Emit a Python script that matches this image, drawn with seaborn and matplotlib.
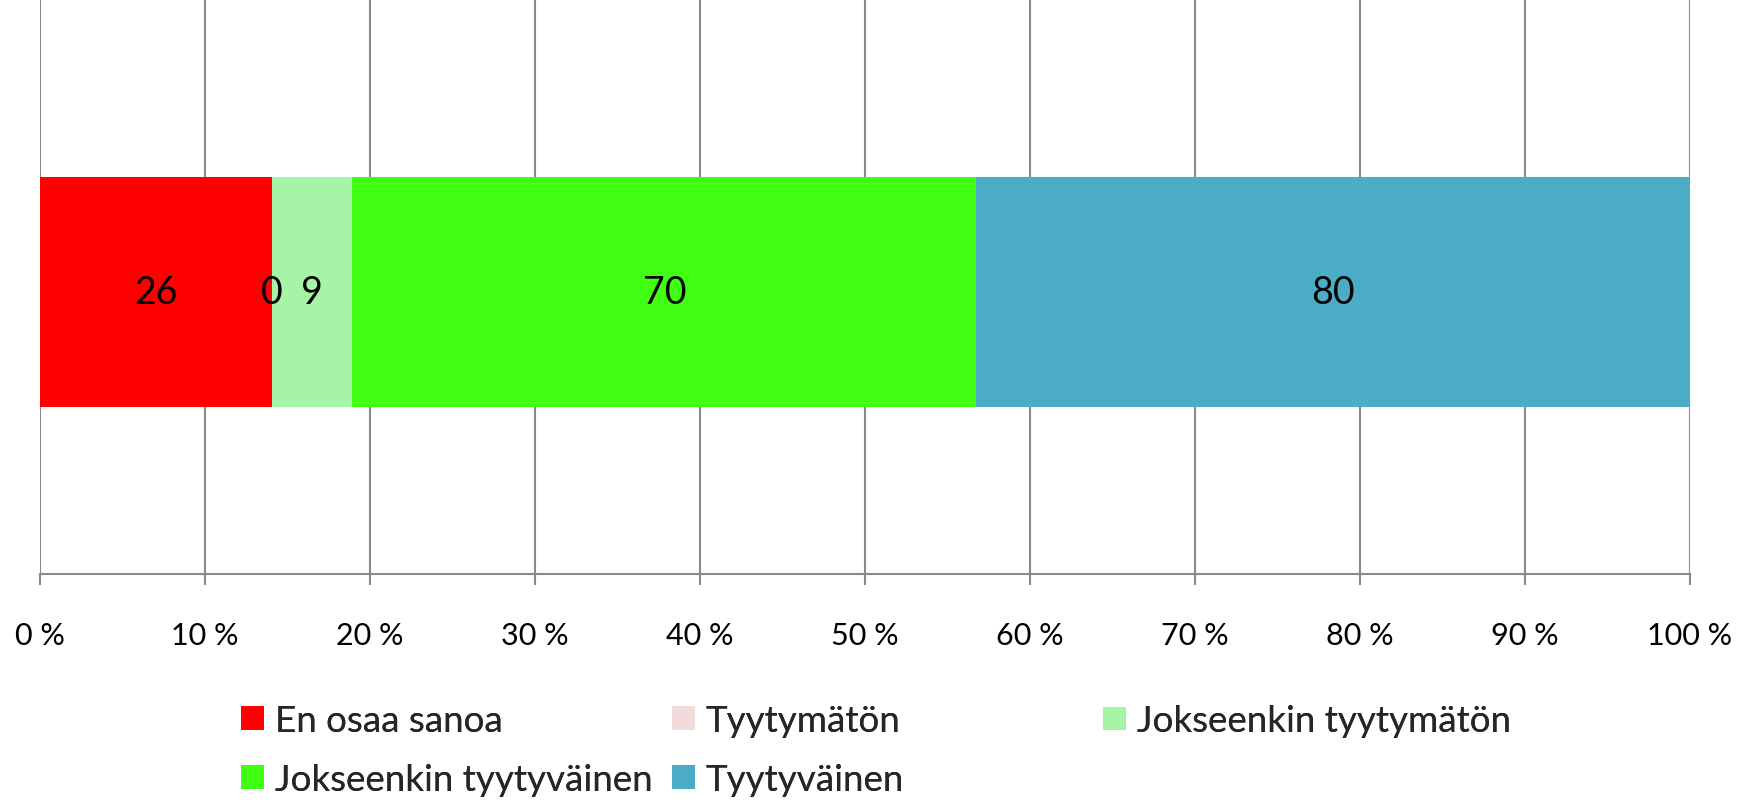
"""
    Stacked 100 % bar of satisfaction answers, Excel-like look.
"""

import seaborn as sns
import pandas as pd
import matplotlib.pyplot as plt
from matplotlib.patches import Patch
from matplotlib.ticker import FuncFormatter

# data
categories = ["En osaa sanoa", "Tyytymätön", "Jokseenkin tyytymätön",
              "Jokseenkin tyytyväinen", "Tyytyväinen"]
counts = [26, 0, 9, 70, 80]
colors = ["#FF0000", "#F2DCDB", "#A6F5A6", "#40FF12", "#4BACC6"]
x_ticks = [0, 10, 20, 30, 40, 50, 60, 70, 80, 90, 100]

sns.set_theme(style="white")
plt.rcParams['font.family'] = ['Lato', 'DejaVu Sans']

df = pd.DataFrame({"category": categories, "count": counts, "color": colors})
df["pct"] = df["count"] / df["count"].sum() * 100
df["cum"] = df["pct"].cumsum()
df["left"] = df["cum"] - df["pct"]
df["row"] = ""

fig = plt.figure(figsize=(17.44, 8.04), dpi=100)
ax = fig.add_axes([40 / 1744, 1 - 575 / 804, 1650 / 1744, 575 / 804])

# classic seaborn stacking: draw cumulative bars, widest first
for i in reversed(range(len(df))):
    sns.barplot(data=df.iloc[[i]], x="cum", y="row", color=df["color"][i],
                width=0.4, saturation=1, linewidth=0, ax=ax, zorder=3)

for _, r in df.iterrows():
    ax.text(r["left"] + r["pct"] / 2, 0, f"{r['count']}", ha="center",
            va="center", fontsize=27, color="black", zorder=4)

ax.set_xlim(0, 100)
ax.set_ylim(0.491, -0.509)
ax.set_xticks(x_ticks)
ax.xaxis.set_major_formatter(FuncFormatter(lambda v, p: f"{v:.0f} %"))
ax.set_yticks([])
ax.set_xlabel("")
ax.set_ylabel("")
ax.grid(axis="x", color="#898989", linewidth=1.5, zorder=0)
ax.set_axisbelow(True)
for s in ["top", "right", "left"]:
    ax.spines[s].set_visible(False)
ax.spines["bottom"].set_color("#898989")
ax.spines["bottom"].set_linewidth(1.5)
ax.tick_params(axis="x", direction="out", length=8, width=1.5, color="#898989",
               pad=26, labelsize=22, labelcolor="black", bottom=True)

# legend laid out like Excel: equal-width columns, filled row by row
handles = [Patch(facecolor=c, edgecolor="none") for c in colors]
columns = [[0, 3], [1, 4], [2]]
col_x = [241 / 1744, 672 / 1744, 1103 / 1744]
for k, idx in enumerate(columns):
    yc = 751 if len(idx) == 2 else 722
    leg = fig.legend([handles[j] for j in idx], [categories[j] for j in idx],
                     loc="center left", bbox_to_anchor=(col_x[k], 1 - yc / 804),
                     frameon=False, fontsize=26.5, borderpad=0, borderaxespad=0,
                     handlelength=0.62, handleheight=0.62, handletextpad=0.3,
                     labelspacing=0.72)
    fig.add_artist(leg)

plt.savefig("out.png", dpi=100)
plt.close()
